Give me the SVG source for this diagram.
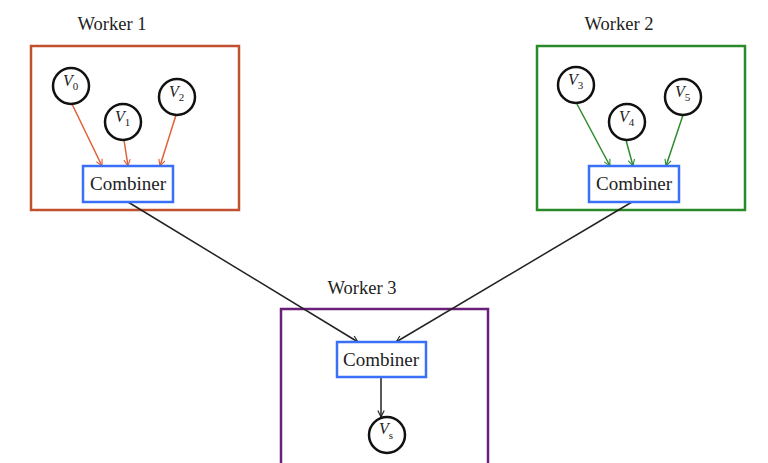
<svg xmlns="http://www.w3.org/2000/svg" width="768" height="463" viewBox="0 0 768 463">
<style>
.lbl{font-family:"Liberation Serif","DejaVu Serif",serif;font-size:18.5px;fill:#222;text-anchor:middle}
.cmb{font-family:"Liberation Serif","DejaVu Serif",serif;font-size:19px;fill:#222;text-anchor:middle}
.cb{fill:#fff;stroke:#3a6ff7;stroke-width:2.5}
.v{fill:#fff;stroke:#111;stroke-width:2.5}
.vt{font-family:"Liberation Serif","DejaVu Serif",serif;font-size:16px;font-style:italic;fill:#222}
.sub{font-size:11px;font-style:normal}
.ar{stroke:#e0603a;stroke-width:1.5;fill:none}
.ag{stroke:#2e8b2e;stroke-width:1.5;fill:none}
.ak{stroke:#222;stroke-width:1.5;fill:none}
</style>
<defs>
<marker id="mr" viewBox="0 0 10 10" refX="9" refY="5" markerWidth="8" markerHeight="8" orient="auto" markerUnits="userSpaceOnUse"><path d="M1,1 L9,5 L1,9" fill="none" stroke="#e0603a" stroke-width="1.4"/></marker>
<marker id="mg" viewBox="0 0 10 10" refX="9" refY="5" markerWidth="8" markerHeight="8" orient="auto" markerUnits="userSpaceOnUse"><path d="M1,1 L9,5 L1,9" fill="none" stroke="#2e8b2e" stroke-width="1.4"/></marker>
<marker id="mk" viewBox="0 0 10 10" refX="9" refY="5" markerWidth="8" markerHeight="8" orient="auto" markerUnits="userSpaceOnUse"><path d="M1,1 L9,5 L1,9" fill="none" stroke="#222" stroke-width="1.4"/></marker>
</defs>

<g id="worker1">
<rect x="31" y="46" width="208" height="164" fill="none" stroke="#c0502e" stroke-width="2.5"/>
<text class="lbl" x="112" y="30">Worker 1</text>
</g>
<g id="worker2">
<rect x="537" y="46" width="208" height="164" fill="none" stroke="#2a8a2a" stroke-width="2.5"/>
<text class="lbl" x="619" y="30">Worker 2</text>
</g>
<g id="worker3">
<rect x="281" y="309" width="207" height="170" fill="none" stroke="#6a1f7a" stroke-width="2.5"/>
<text class="lbl" x="362" y="294">Worker 3</text>
</g>

<g id="connectors">
<line class="ar" x1="72" y1="104" x2="102" y2="166" marker-end="url(#mr)"/>
<line class="ar" x1="124" y1="140" x2="128" y2="166" marker-end="url(#mr)"/>
<line class="ar" x1="176" y1="115" x2="160" y2="166" marker-end="url(#mr)"/>
<line class="ag" x1="577" y1="104" x2="610" y2="166" marker-end="url(#mg)"/>
<line class="ag" x1="626" y1="140" x2="633" y2="166" marker-end="url(#mg)"/>
<line class="ag" x1="683" y1="115" x2="666" y2="166" marker-end="url(#mg)"/>
<line class="ak" x1="128" y1="202" x2="358" y2="342" marker-end="url(#mk)"/>
<line class="ak" x1="632" y1="202" x2="396" y2="342" marker-end="url(#mk)"/>
<line class="ak" x1="381" y1="377" x2="381" y2="417" marker-end="url(#mk)"/>
</g>

<g id="v0"><circle class="v" cx="71" cy="86" r="18"/><text class="vt" x="63" y="86">V<tspan class="sub" dy="4">0</tspan></text></g>
<g id="v1"><circle class="v" cx="123" cy="122" r="18"/><text class="vt" x="115" y="122">V<tspan class="sub" dy="4">1</tspan></text></g>
<g id="v2"><circle class="v" cx="177" cy="97" r="18"/><text class="vt" x="169" y="97">V<tspan class="sub" dy="4">2</tspan></text></g>
<g id="v3"><circle class="v" cx="576" cy="85" r="18"/><text class="vt" x="568" y="85">V<tspan class="sub" dy="4">3</tspan></text></g>
<g id="v4"><circle class="v" cx="627" cy="122" r="18"/><text class="vt" x="619" y="122">V<tspan class="sub" dy="4">4</tspan></text></g>
<g id="v5"><circle class="v" cx="683" cy="97" r="18"/><text class="vt" x="675" y="97">V<tspan class="sub" dy="4">5</tspan></text></g>
<g id="vs"><circle class="v" cx="387" cy="435" r="18"/><text class="vt" x="379" y="434">V<tspan class="sub" dy="5">s</tspan></text></g>

<g id="combiner1"><rect class="cb" x="83" y="166" width="90" height="36"/><text class="cmb" x="128" y="190">Combiner</text></g>
<g id="combiner2"><rect class="cb" x="589" y="166" width="90" height="36"/><text class="cmb" x="634" y="190">Combiner</text></g>
<g id="combiner3"><rect class="cb" x="337" y="342" width="89" height="35"/><text class="cmb" x="381" y="366">Combiner</text></g>
</svg>
